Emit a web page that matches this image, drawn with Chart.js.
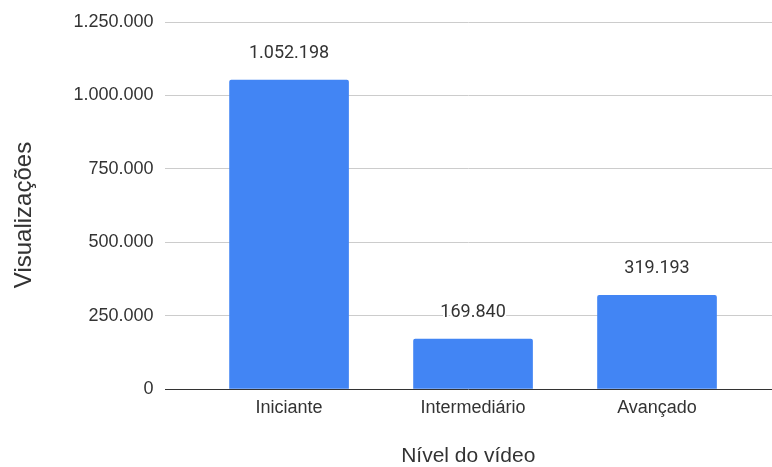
<!DOCTYPE html>
<html lang="pt-BR">
<head>
<meta charset="utf-8">
<script src="https://cdn.jsdelivr.net/npm/chart.js@4/dist/chart.umd.min.js"></script>
<style>
  html, body { margin: 0; padding: 0; background: #fff; }
  #wrap { width: 772px; height: 467px; position: relative; }
</style>
</head>
<body>
<div id="wrap"><canvas id="chart"></canvas></div>
<script>
// Visualizações por nível do vídeo
const categories = ['Iniciante', 'Intermediário', 'Avançado'];
const views = [1052198, 169840, 319193];
const yTicks = [0, 250000, 500000, 750000, 1000000, 1250000];

const AXIS_FONT = '"Liberation Sans", Arial, sans-serif';
const LABEL_FONT = 'Roboto, "Noto Sans", Arial, sans-serif';
const TEXT = '#333333';

// 1234567 -> "1.234.567"
function fmt(n) {
  return String(Math.round(n)).replace(/\B(?=(\d{3})+(?!\d))/g, '.');
}

// Value labels above each bar, with a white halo over the gridlines
const valueLabels = {
  id: 'valueLabels',
  afterDatasetsDraw(chart) {
    const ctx = chart.ctx;
    const meta = chart.getDatasetMeta(0);
    ctx.save();
    ctx.font = '18px ' + LABEL_FONT;
    ctx.textAlign = 'center';
    ctx.textBaseline = 'alphabetic';
    ctx.lineJoin = 'round';
    meta.data.forEach((bar, i) => {
      const txt = fmt(views[i]);
      const y = bar.y - 22.5;
      ctx.strokeStyle = '#ffffff';
      ctx.lineWidth = 4;
      ctx.strokeText(txt, bar.x, y);
      ctx.fillStyle = TEXT;
      ctx.fillText(txt, bar.x, y);
    });
    ctx.restore();
  }
};

// Vertical axis title
const yTitle = {
  id: 'yTitle',
  afterDraw(chart) {
    const ctx = chart.ctx;
    ctx.save();
    ctx.translate(24, 215);
    ctx.rotate(-Math.PI / 2);
    ctx.font = '24px ' + AXIS_FONT;
    ctx.fillStyle = TEXT;
    ctx.textAlign = 'center';
    ctx.textBaseline = 'middle';
    ctx.fillText('Visualizações', 0, 0);
    ctx.restore();
  }
};

new Chart(document.getElementById('chart'), {
  type: 'bar',
  data: {
    datasets: [{
      data: views.map((v, i) => ({ x: i, y: v })),
      backgroundColor: '#4285F4',
      borderWidth: 0,
      borderRadius: { topLeft: 2, topRight: 2, bottomLeft: 0, bottomRight: 0 },
      borderSkipped: 'start',
      barThickness: 119
    }]
  },
  options: {
    responsive: true,
    maintainAspectRatio: false,
    animation: false,
    layout: { padding: { top: 22, right: 0, bottom: 0, left: 0 } },
    plugins: {
      legend: { display: false },
      tooltip: { enabled: false }
    },
    scales: {
      x: {
        type: 'linear',
        offset: false,
        min: -0.677,
        max: 2.625,
        afterBuildTicks: s => { s.ticks = categories.map((_, i) => ({ value: i })); },
        afterFit: s => { s.height = 78; },
        grid: { display: false, drawTicks: false },
        border: { display: false },
        ticks: {
          autoSkip: false,
          maxRotation: 0,
          padding: 8,
          color: TEXT,
          font: { family: AXIS_FONT, size: 18 },
          callback: v => categories[v]
        },
        title: {
          display: true,
          text: 'Nível do vídeo',
          color: TEXT,
          font: { family: AXIS_FONT, size: 21, lineHeight: 1 },
          padding: { top: 0, bottom: 0 }
        }
      },
      y: {
        min: 0,
        max: 1250000,
        afterBuildTicks: s => { s.ticks = yTicks.map(v => ({ value: v })); },
        afterFit: s => { s.width = 164.5; },
        grid: {
          drawTicks: false,
          lineWidth: 1,
          color: c => (c.tick && c.tick.value === 0) ? '#333333' : '#cccccc'
        },
        border: { display: false },
        ticks: {
          padding: 11,
          color: TEXT,
          font: { family: AXIS_FONT, size: 18 },
          callback: v => fmt(v)
        }
      }
    }
  },
  plugins: [valueLabels, yTitle]
});
</script>
</body>
</html>
